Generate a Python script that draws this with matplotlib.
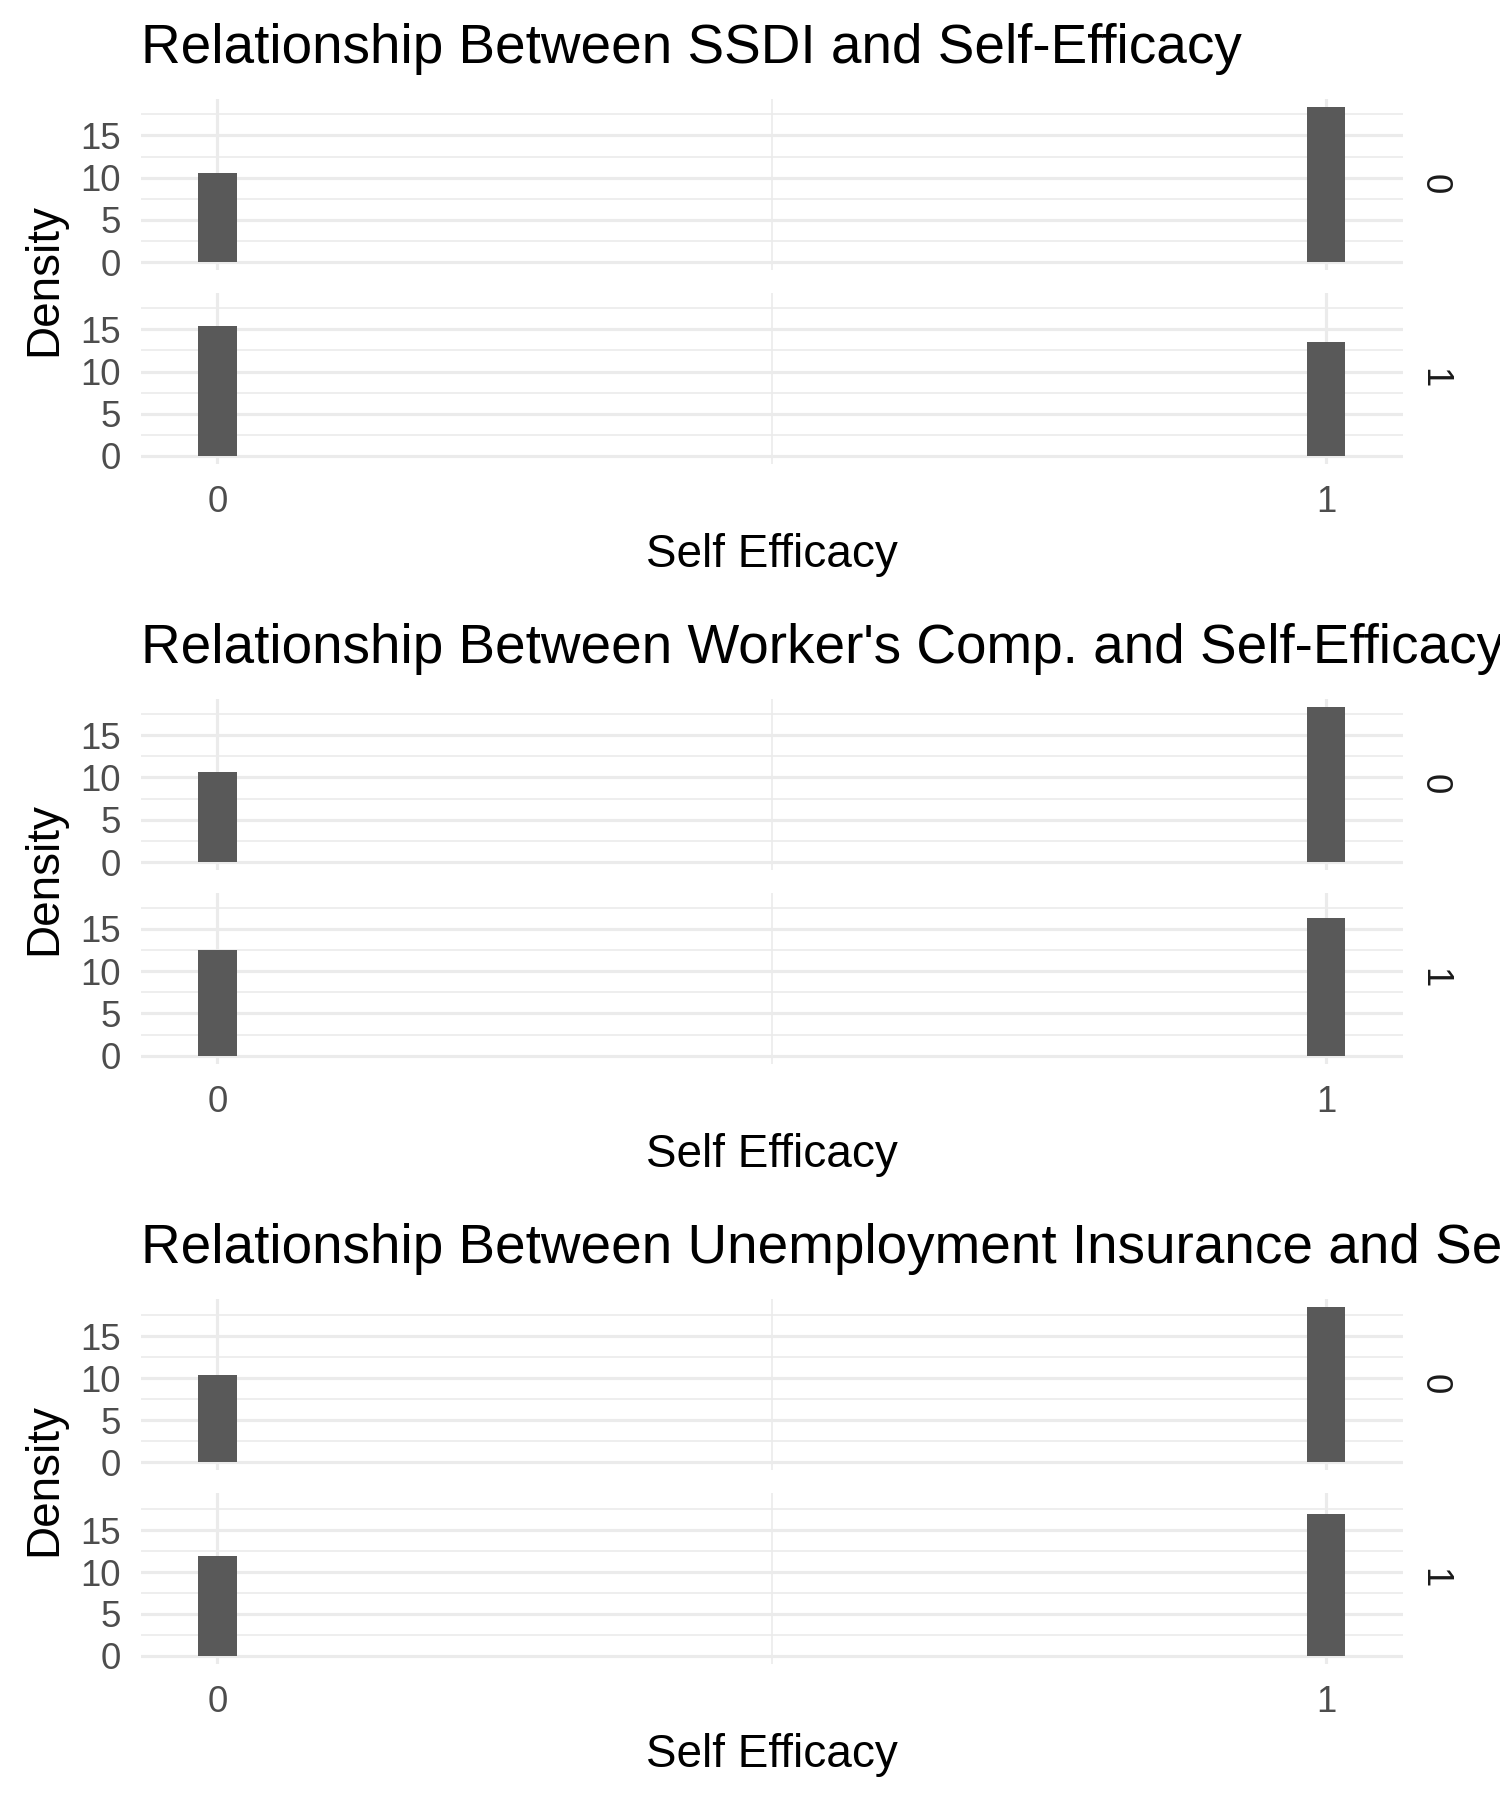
import matplotlib
matplotlib.use("Agg")
import matplotlib.pyplot as plt

plt.rcParams['font.family'] = ['Liberation Sans', 'DejaVu Sans']

# ---------------- data ----------------
titles = [
    "Relationship Between SSDI and Self-Efficacy",
    "Relationship Between Worker's Comp. and Self-Efficacy",
    "Relationship Between Unemployment Insurance and Self-Efficacy",
]
facet_levels = ["0", "1"]
self_efficacy = [0, 1]
x_tick_labels = ["0", "1"]
y_ticks = [0, 5, 10, 15]
y_minor = [2.5, 7.5, 12.5, 17.5]

# density of Self Efficacy per facet level (0 / 1)
ssdi_f0 = [10.55, 18.40]
ssdi_f1 = [15.40, 13.45]
wc_f0 = [10.68, 18.34]
wc_f1 = [12.56, 16.33]
ui_f0 = [10.40, 18.53]
ui_f1 = [11.98, 16.98]

bin_width = 1 / 29

blocks = [
    (titles[0], [ssdi_f0, ssdi_f1]),
    (titles[1], [wc_f0, wc_f1]),
    (titles[2], [ui_f0, ui_f1]),
]

# ---------------- layout ----------------
W, H = 1500, 1800
DPI = 100
fig = plt.figure(figsize=(W / DPI, H / DPI), dpi=DPI)
fig.patch.set_facecolor("white")


def rect(left, top, right, bottom):
    return [left / W, 1 - bottom / H, (right - left) / W, (bottom - top) / H]


def fx(x):
    return x / W


def fy(y):
    return 1 - y / H


PANEL_L, PANEL_R = 141, 1402.7
TOPS = [99, 293]
BOTTOMS = [270, 463.5]
GRID = "#EBEBEB"
TICK_COL = "#4D4D4D"
TICK_SIZE = 26.4
AXIS_SIZE = 33
TITLE_SIZE = 39.5

for k, (title, facets) in enumerate(blocks):
    o = 600 * k
    ymax = max(max(f) for f in facets)
    ylims = (-0.05 * ymax, 1.05 * ymax)
    lo = min(self_efficacy) - bin_width / 2
    hi = max(self_efficacy) + bin_width / 2
    rng = hi - lo
    xlims = (lo - 0.05 * rng, hi + 0.05 * rng)

    for j, vals in enumerate(facets):
        ax = fig.add_axes(rect(PANEL_L, TOPS[j] + o, PANEL_R, BOTTOMS[j] + o))
        ax.set_facecolor("white")
        ax.bar(self_efficacy, vals, width=bin_width, color="#595959",
               linewidth=0, zorder=3)
        ax.set_xlim(*xlims)
        ax.set_ylim(*ylims)
        ax.set_yticks(y_ticks)
        ax.set_yticks(y_minor, minor=True)
        ax.set_xticks(self_efficacy)
        ax.set_xticks([0.5], minor=True)
        ax.grid(which="major", color=GRID, linewidth=2.3, zorder=0)
        ax.grid(which="minor", color=GRID, linewidth=1.2, zorder=0)
        ax.set_axisbelow(True)
        for s in ax.spines.values():
            s.set_visible(False)
        ax.tick_params(which="both", length=0)
        ax.tick_params(axis="y", pad=14.5, labelsize=TICK_SIZE,
                       labelcolor=TICK_COL)
        if j == 0:
            ax.set_xticklabels([])
        else:
            ax.set_xticklabels(x_tick_labels)
            ax.tick_params(axis="x", pad=15.5, labelsize=TICK_SIZE,
                           labelcolor=TICK_COL)
        # strip label
        fig.text(fx(1434), fy((TOPS[j] + BOTTOMS[j]) / 2 + o), facet_levels[j],
                 rotation=-90, ha="center", va="center",
                 fontsize=TICK_SIZE, color="#1A1A1A")

    # title
    fig.text(fx(141), fy(63.3 + o), title, ha="left", va="baseline",
             fontsize=TITLE_SIZE, color="black")
    # y axis title
    fig.text(fx(56.5), fy(279 + o), "Density", rotation=90,
             rotation_mode="anchor", ha="center", va="baseline",
             fontsize=AXIS_SIZE, color="black")
    # x axis title
    fig.text(fx((PANEL_L + PANEL_R) / 2), fy(567.3 + o), "Self Efficacy",
             ha="center", va="baseline", fontsize=AXIS_SIZE, color="black")

fig.savefig("out.png", dpi=DPI, facecolor="white")
